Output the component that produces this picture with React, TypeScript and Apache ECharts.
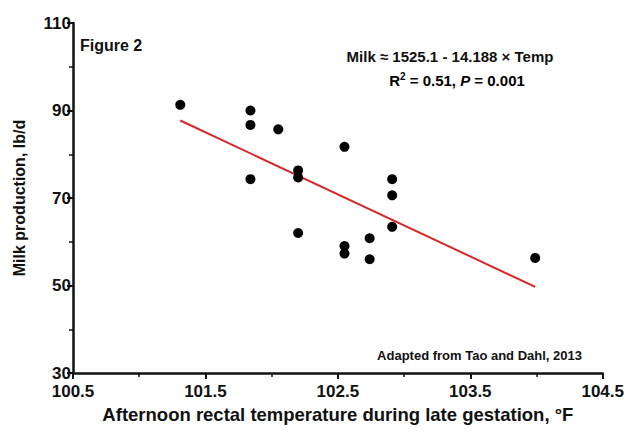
import React, { useEffect, useRef } from "react";
import * as echarts from "echarts";

const temperature = [101.31, 101.84, 101.84, 102.05, 101.84, 102.2, 102.2, 102.55, 102.2, 102.55, 102.55, 102.74, 102.74, 102.91, 102.91, 102.91, 103.99];
const milk = [91.3, 90.0, 86.7, 85.7, 74.3, 76.3, 74.7, 81.7, 62.0, 59.0, 57.3, 60.8, 56.0, 74.3, 70.6, 63.4, 56.3];
const intercept = 1525.1;
const slope = -14.188;
const xTicks = [100.5, 104.5];
const yTicks = [30, 110];

export default function App() {
  const ref = useRef<HTMLDivElement>(null);
  useEffect(() => {
    const chart = echarts.init(ref.current!, null, { renderer: "svg" });
    const points = temperature.map((t, i) => [t, milk[i]]);
    const tMin = Math.min(...temperature);
    const tMax = Math.max(...temperature);
    const fit = [tMin, tMax].map((t) => [t, intercept + slope * t]);
    const font = "'Liberation Sans', Arial, sans-serif";
    chart.setOption({
      animation: false,
      backgroundColor: "#ffffff",
      grid: { left: 73, right: 24, top: 23, bottom: 59 },
      xAxis: {
        type: "value",
        min: xTicks[0],
        max: xTicks[1],
        interval: 1,
        name: "Afternoon rectal temperature during late gestation, °F",
        nameLocation: "middle",
        nameGap: 28,
        nameTextStyle: { fontFamily: font, fontWeight: "bold", fontSize: 18.5, color: "#111" },
        axisLine: { lineStyle: { color: "#111", width: 2.5 } },
        axisTick: { length: 6, lineStyle: { color: "#111", width: 2 } },
        minorTick: { show: true, splitNumber: 2, length: 4, lineStyle: { color: "#111", width: 1.5 } },
        splitLine: { show: false },
        axisLabel: { fontFamily: font, fontWeight: "bold", fontSize: 17, color: "#111", margin: 10, formatter: (v: number) => v.toFixed(1) },
      },
      yAxis: {
        type: "value",
        min: yTicks[0],
        max: yTicks[1],
        interval: 20,
        name: "Milk production, lb/d",
        nameLocation: "middle",
        nameGap: 46,
        nameTextStyle: { fontFamily: font, fontWeight: "bold", fontSize: 16, color: "#111" },
        axisLine: { show: true, lineStyle: { color: "#111", width: 2.5 } },
        axisTick: { show: true, length: 6, lineStyle: { color: "#111", width: 2 } },
        minorTick: { show: true, splitNumber: 2, length: 4, lineStyle: { color: "#111", width: 1.5 } },
        splitLine: { show: false },
        axisLabel: { fontFamily: font, fontWeight: "bold", fontSize: 17, color: "#111", margin: 2 },
      },
      series: [
        {
          type: "line",
          data: fit,
          symbol: "none",
          lineStyle: { color: "#d62828", width: 2 },
          z: 1,
        },
        {
          type: "scatter",
          data: points,
          symbolSize: 10,
          itemStyle: { color: "#000", opacity: 1 },
          z: 2,
        },
      ],
      graphic: [
        {
          type: "text",
          left: 80,
          top: 37,
          style: { text: "Figure 2", font: `bold 16px ${font}`, fill: "#111" },
        },
        {
          type: "text",
          x: 450,
          y: 56,
          style: {
            text: "Milk ≈ 1525.1 - 14.188 × Temp",
            font: `bold 15px ${font}`,
            fill: "#111",
            align: "center",
            verticalAlign: "middle",
          },
        },
        {
          type: "text",
          x: 457,
          y: 80,
          style: {
            text: "{a|R}{s|2}{a| = 0.51, }{i|P}{a| = 0.001}",
            align: "center",
            verticalAlign: "middle",
            rich: {
              a: { font: `bold 15px ${font}`, color: "#111" },
              s: { font: `bold 10px ${font}`, color: "#111", verticalAlign: "top", padding: [0, 0, 7, 0] },
              i: { font: `italic bold 15px ${font}`, color: "#111" },
            },
          },
        },
        {
          type: "text",
          x: 582,
          y: 355,
          style: {
            text: "Adapted from Tao and Dahl, 2013",
            font: `bold 13px ${font}`,
            fill: "#111",
            align: "right",
            verticalAlign: "middle",
          },
        },
      ],
    });
    return () => chart.dispose();
  }, []);
  return <div ref={ref} style={{ width: 627, height: 432, position: "absolute", left: 0, top: 0 }} />;
}
